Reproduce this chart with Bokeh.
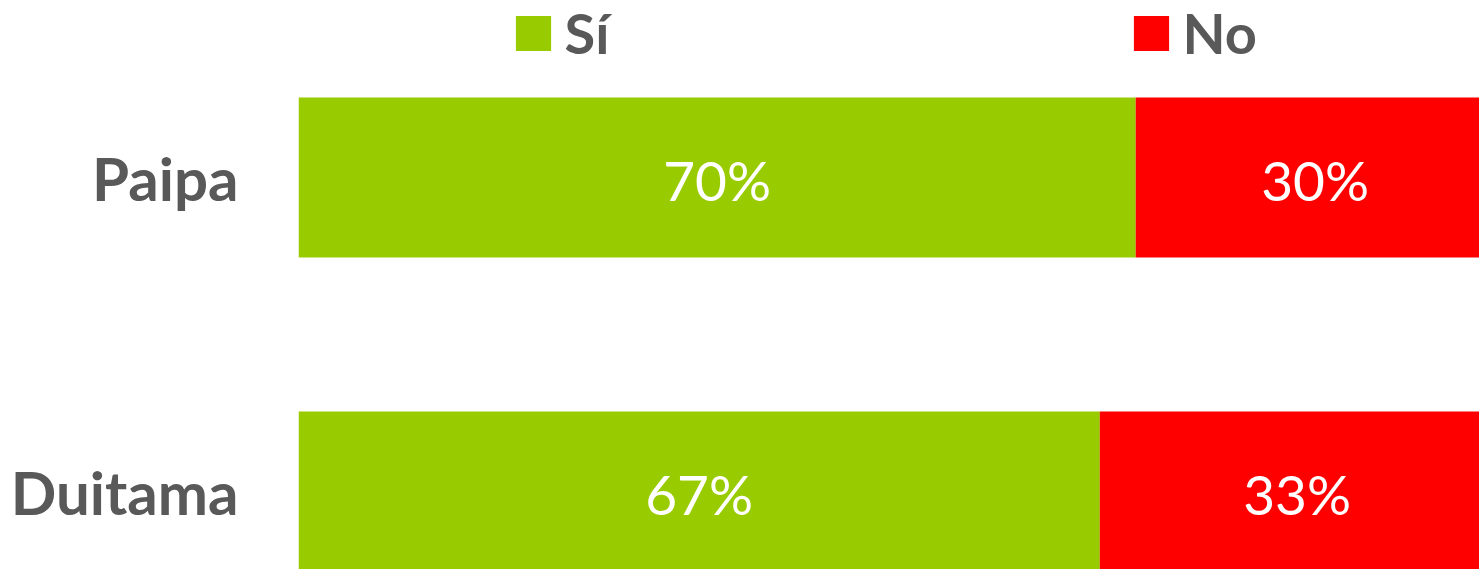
from bokeh.plotting import figure
from bokeh.models import ColumnDataSource, Range1d, Legend, LegendItem, FixedTicker, LabelSet
from bokeh.core.properties import value
from bokeh.embed import file_html
from bokeh.resources import INLINE

# ---- data ----
municipios = ["Duitama", "Paipa"]
si = [67, 70]
no = [33, 30]
series = ["Sí", "No"]
colors = ["#99CC00", "#FF0000"]

ypos = list(range(len(municipios)))
src = ColumnDataSource(dict(
    y=ypos,
    si_end=si,
    no_start=si,
    no_end=[a + b for a, b in zip(si, no)],
    si_mid=[a / 2 for a in si],
    no_mid=[a + b / 2 for a, b in zip(si, no)],
    si_lab=[f"{a}%" for a in si],
    no_lab=[f"{b}%" for b in no],
))

FONT = "Lato"
GRAY = "#595959"

p = figure(width=1479, height=569,
           x_range=Range1d(0, 98.746), y_range=Range1d(-0.2484, 1.5637),
           output_backend="svg", toolbar_location=None,
           min_border_left=298, min_border_right=0,
           min_border_top=0, min_border_bottom=0)
p.outline_line_color = None
p.grid.visible = False
p.xaxis.visible = False
p.background_fill_color = "white"
p.border_fill_color = "white"

bh = 160 / 314
r_si = p.hbar(y="y", left=0, right="si_end", height=bh, source=src,
              fill_color=colors[0], line_color=None)
r_no = p.hbar(y="y", left="no_start", right="no_end", height=bh, source=src,
              fill_color=colors[1], line_color=None)

yax = p.yaxis[0]
yax.ticker = FixedTicker(ticks=ypos)
yax.major_label_overrides = {i: m for i, m in zip(ypos, municipios)}
yax.axis_line_color = None
yax.major_tick_line_color = None
yax.minor_tick_line_color = None
yax.major_tick_out = 0
yax.major_tick_in = 0
yax.major_label_standoff = 60
yax.major_label_text_font = FONT
yax.major_label_text_font_style = "bold"
yax.major_label_text_font_size = "60px"
yax.major_label_text_color = GRAY

for xcol, lcol in (("si_mid", "si_lab"), ("no_mid", "no_lab")):
    ls = LabelSet(x=xcol, y="y", text=lcol, source=src,
                  text_align="center", text_baseline="middle",
                  text_font=value(FONT), text_font_size="55px",
                  text_color="white", y_offset=-2)
    p.add_layout(ls)

for r, name, loc in ((r_si, series[0], (212.6, 503)), (r_no, series[1], (830.6, 503))):
    leg = Legend(items=[LegendItem(label=name, renderers=[r])],
                 location=loc, orientation="horizontal",
                 glyph_width=44, glyph_height=44, label_height=44,
                 label_standoff=10, padding=0, margin=0,
                 border_line_color=None, background_fill_alpha=0,
                 label_text_font=FONT, label_text_font_style="bold",
                 label_text_font_size="56px", label_text_color=GRAY)
    p.add_layout(leg, "center")

open("out.html", "w").write(file_html(p, INLINE))
